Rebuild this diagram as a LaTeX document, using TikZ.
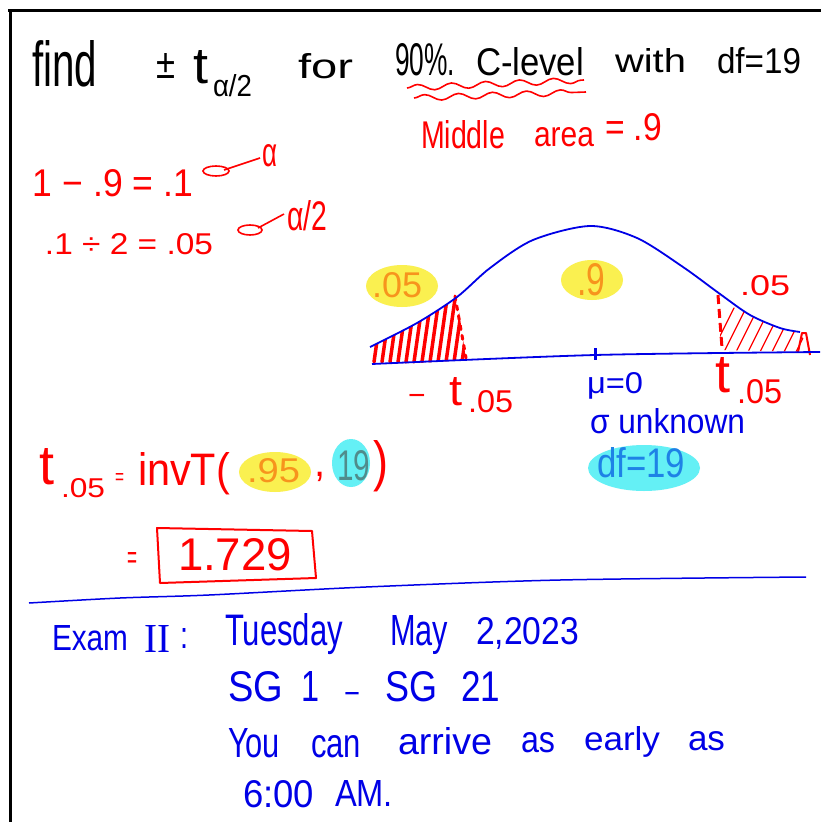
\documentclass[tikz,border=0pt]{standalone}
\usepackage{fontspec}
\setmainfont{Liberation Sans}
\newfontfamily\serifhw{Liberation Serif}
\usetikzlibrary{decorations.pathmorphing}
\definecolor{hwred}{RGB}{255,0,0}
\definecolor{hwblue}{RGB}{0,0,230}
\definecolor{hworange}{RGB}{247,148,29}
\definecolor{hwyellow}{RGB}{250,240,80}
\definecolor{hwcyan}{RGB}{100,240,245}
\definecolor{hwdf}{RGB}{30,130,230}
\definecolor{hwteal}{RGB}{80,140,140}
\newcommand{\hw}[3]{\resizebox{#1pt}{#2pt}{#3}}
\tikzset{
  txt/.style={inner sep=0pt, outer sep=0pt, anchor=base west},
  blob/.style={draw=none},
  hatchbig/.style={hwred, line width=3.5pt, line cap=round},
  hatchthin/.style={hwred, line width=1.2pt, line cap=round},
}
\begin{document}
\begin{tikzpicture}[x=1pt,y=-1pt]
\fill[white] (0,0) rectangle (821,822);
\useasboundingbox (0,0) rectangle (821,822);
% frame
\draw[black, line width=3pt] (8,10) -- (821,10);
\draw[black, line width=3pt] (10,10) -- (10,822);

% ---- line 1 (black)
\node[txt] (find) at (32,86) {\hw{65}{46}{find}};
\node[txt] (pm) at (156,78) {\hw{19}{25}{±}};
\node[txt] (t1) at (193,83) {\hw{15}{33}{t}};
\node[txt] (a2) at (213,96) {\hw{39}{22}{α/2}};
\node[txt] (for) at (298,78) {\hw{55}{25}{for}};
\node[txt] (pct) at (395,75) {\hw{60}{32}{90\%.}};
\node[txt] (clev) at (476,75) {\hw{108}{28}{C-level}};
\node[txt] (with) at (615,72) {\hw{71}{24}{with}};
\node[txt] (df1) at (717,73) {\hw{84}{26}{df=19}};
% wavy underlines
\coordinate (w1a) at (407,88); \coordinate (w1b) at (584,80);
\coordinate (w2a) at (414,98); \coordinate (w2b) at (586,92);
\draw[hwred, line width=1.6pt, decorate, decoration={snake, amplitude=3pt, segment length=34pt}] (w1a) -- (w1b);
\draw[hwred, line width=1.6pt, decorate, decoration={snake, amplitude=3pt, segment length=34pt}] (w2a) -- (w2b);

% ---- middle area
\node[txt, hwred] (mid) at (421,148) {\hw{84}{28}{Middle}};
\node[txt, hwred] (area) at (534,146) {\hw{60}{19}{area}};
\node[txt, hwred] (eq9) at (605,140) {\hw{57}{27}{= .9}};

% ---- alpha computations
\node[txt, hwred] (calc1) at (33,196) {\hw{160}{27}{1 − .9 = .1}};
\draw[hwred, line width=1.6pt] (216,171) ellipse [x radius=13, y radius=5];
\coordinate (ar1a) at (224,170); \coordinate (ar1b) at (260,158);
\draw[hwred, line width=1.6pt] (ar1a) -- (ar1b);
\node[txt, hwred] (alpha) at (262,166) {\hw{15}{22}{α}};

\node[txt, hwred] (calc2) at (45,254) {\hw{168}{21}{.1 ÷ 2 = .05}};
\draw[hwred, line width=1.6pt] (250,230) ellipse [x radius=12, y radius=5];
\coordinate (ar2a) at (258,228); \coordinate (ar2b) at (284,214);
\draw[hwred, line width=1.6pt] (ar2a) -- (ar2b);
\node[txt, hwred] (alpha2) at (287,230) {\hw{40}{30}{α/2}};

% ---- highlights under graph labels
\fill[hwyellow, blob] (402,286) ellipse [x radius=36, y radius=21];
\fill[hwyellow, blob] (592,280) ellipse [x radius=31, y radius=20];

% ---- shaded tails
\begin{scope}
\clip plot[smooth] coordinates {(370,347) (417,323) (457,297)} -- (466,360) -- (372,366) -- cycle;
\foreach \x in {366,374,...,470} \draw[hatchbig] (\x,362) -- ++(10,-70);
\end{scope}
\draw[hwred, line width=3pt, line cap=round, dash pattern=on 4pt off 6pt] (455,296) -- (466,358);

\begin{scope}
\clip plot[smooth] coordinates {(720,294) (750,315) (780,328) (800,332)} -- (810,352) -- (720,350) -- cycle;
\foreach \x in {712,724,...,812} \draw[hatchthin] (\x,352) -- ++(22,-44);
\end{scope}
\draw[hwred, line width=2pt, line join=round] (798,352) -- (802,333) -- (806,333) -- (810,355);
\draw[hwred, line width=3pt, dash pattern=on 9pt off 5pt] (718,295) -- (722,348);

% ---- curve and axis
\draw[hwblue, line width=1.8pt] plot[smooth] coordinates {(370,347) (417,323) (457,297) (490,268) (533,240) (590,226) (637,238) (683,267) (720,294) (750,315) (780,328) (800,332)};
\coordinate (ax1) at (372,364); \coordinate (ax2) at (595,355); \coordinate (ax3) at (820,352);
\draw[hwblue, line width=1.8pt] plot[smooth] coordinates {(ax1) (ax2) (ax3)};
\draw[hwblue, line width=3pt] (595,348) -- (595,360);

% ---- graph labels
\node[txt, hworange] (l05) at (372,297) {\hw{50}{25}{.05}};
\node[txt, hworange] (c9) at (577,295) {\hw{28}{32}{.9}};
\node[txt, hwred] (r05) at (740,295) {\hw{50}{20}{.05}};
\node[hwred, inner sep=0pt, font=\fontsize{30}{30}\selectfont] (minus) at (417,400) {−};
\node[txt, hwred] (tl) at (449,405) {\hw{13}{28}{t}};
\node[txt, hwred] (tl05) at (468,412) {\hw{45}{22}{.05}};
\node[txt, hwblue] (mu) at (587,393) {\hw{56}{21}{μ=0}};
\node[txt, hwblue] (sig) at (590,433) {\hw{155}{25}{σ unknown}};
\node[txt, hwred] (tr) at (715,392) {\hw{15}{35}{t}};
\node[txt, hwred] (tr05) at (737,403) {\hw{45}{24}{.05}};

% ---- df = 19 highlight
\fill[hwcyan, blob] (644,468) ellipse [x radius=56, y radius=23];
\node[txt, hwdf] (df2) at (597,477) {\hw{88}{30}{df=19}};

% ---- invT line
\node[txt, hwred] (tf) at (39,484) {\hw{15}{36}{t}};
\node[txt, hwred] (tf05) at (61,497) {\hw{44}{19}{.05}};
\node[txt, hwred] (eqa) at (115,484) {\hw{9}{11}{=}};
\node[txt, hwred] (invt) at (138,485) {\hw{92}{33}{invT(}};
\fill[hwyellow, blob] (275,472) ellipse [x radius=36, y radius=20];
\node[txt, hworange] (p95) at (247,482) {\hw{53}{24}{.95}};
\node[txt, hwred, font=\fontsize{40}{40}\selectfont] (comma) at (314,476) {,};
\fill[hwcyan, blob] (351,463) ellipse [x radius=19, y radius=24];
\node[txt, hwteal] (n19) at (337,480) {\hw{33}{30}{19}};
\node[txt, hwred] (rpar) at (373,480) {\hw{15}{40}{)}};

% ---- result
\node[txt, hwred] (eqb) at (127,568) {\hw{10}{16}{=}};
\draw[hwred, line width=2pt, line join=round] (157,528) -- (312,531) -- (316,578) -- (160,583) -- cycle;
\node[txt, hwred] (res) at (178,570) {\hw{114}{32}{1.729}};

% ---- separator
\draw[hwblue, line width=1.5pt] plot[smooth] coordinates {(29,603) (120,598) (209,595) (366,587) (560,580) (806,577)};

% ---- exam notes
\node[txt, hwblue] (exam) at (52,650) {\hw{76}{25}{Exam}};
\node[txt, hwblue] (two) at (144,652) {\hw{26}{27}{\serifhw II}};
\node[txt, hwblue] (colon) at (180,648) {\hw{8}{20}{:}};
\node[txt, hwblue] (tue) at (225,645) {\hw{118}{32}{Tuesday}};
\node[txt, hwblue] (may) at (390,645) {\hw{58}{30}{May}};
\node[txt, hwblue] (date) at (476,644) {\hw{103}{27}{2,2023}};
\node[txt, hwblue] (sg1) at (228,701) {\hw{55}{30}{SG}};
\node[txt, hwblue] (one) at (301,701) {\hw{18}{30}{1}};
\node[txt, hwblue] (dash) at (343,701) {\hw{18}{9}{-}};
\node[txt, hwblue] (sg2) at (385,701) {\hw{52}{30}{SG}};
\node[txt, hwblue] (tw1) at (461,701) {\hw{39}{30}{21}};
\node[txt, hwblue] (you) at (228,757) {\hw{52}{29}{You}};
\node[txt, hwblue] (can) at (311,757) {\hw{50}{22}{can}};
\node[txt, hwblue] (arr) at (398,754) {\hw{94}{27}{arrive}};
\node[txt, hwblue] (as1) at (521,752) {\hw{34}{20}{as}};
\node[txt, hwblue] (early) at (584,750) {\hw{76}{24}{early}};
\node[txt, hwblue] (as2) at (688,750) {\hw{37}{19}{as}};
\node[txt, hwblue] (six) at (243,807) {\hw{71}{27}{6:00}};
\node[txt, hwblue] (am) at (335,806) {\hw{58}{26}{AM.}};
\end{tikzpicture}
\end{document}
